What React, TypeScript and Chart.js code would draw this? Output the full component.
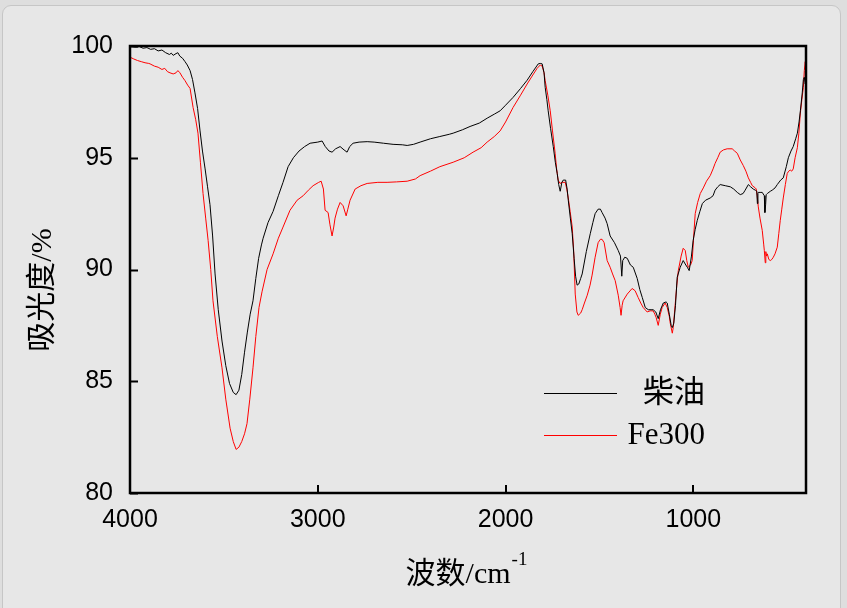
import React, { useEffect, useRef } from "react";
import { Chart, registerables } from "chart.js";

Chart.register(...registerables);

// Series labels
const seriesLabels = [" 柴油", "Fe300"];
const seriesColors = ["#000000", "#ff0000"];

// Axis settings
const xTicks = [4000, 3000, 2000, 1000];
const yTicks = [80, 85, 90, 95, 100];
const xTitle = "波数/cm";
const xTitleSup = "-1";
const yTitle = "吸光度/%";

// [wavenumber cm-1, value %]
const dieselSpectrum: [number, number][] = [
  [4000, 100.0], [3985, 99.97], [3970, 99.95], [3950, 99.97], [3930, 99.9], [3910, 99.93],
  [3890, 99.85], [3870, 99.88], [3850, 99.78], [3830, 99.82], [3810, 99.7], [3790, 99.62],
  [3780, 99.68], [3770, 99.58], [3755, 99.66], [3745, 99.7], [3735, 99.55], [3720, 99.45],
  [3707, 99.3], [3695, 99.15], [3680, 98.9], [3667, 98.5], [3654, 97.9], [3640, 97.2],
  [3627, 96.2], [3614, 95.3], [3600, 94.5], [3587, 93.7], [3574, 92.9], [3560, 91.5],
  [3547, 89.8], [3530, 88.2], [3510, 86.8], [3490, 85.7], [3470, 84.9], [3450, 84.5],
  [3435, 84.4], [3420, 84.6], [3405, 85.3], [3390, 86.3], [3375, 87.2], [3360, 88.0],
  [3345, 88.6], [3330, 89.6], [3315, 90.5], [3300, 91.1], [3291, 91.4], [3265, 92.1],
  [3238, 92.6], [3210, 93.3], [3185, 93.9], [3158, 94.6], [3130, 95.0], [3100, 95.3],
  [3070, 95.5], [3041, 95.65], [3000, 95.7], [2977, 95.75], [2960, 95.5], [2940, 95.3],
  [2924, 95.25], [2905, 95.4], [2881, 95.5], [2860, 95.35], [2844, 95.25], [2830, 95.5],
  [2812, 95.65], [2780, 95.7], [2737, 95.72], [2700, 95.7], [2650, 95.65], [2599, 95.6],
  [2550, 95.58], [2524, 95.55], [2490, 95.6], [2455, 95.7], [2400, 95.85], [2350, 95.95],
  [2300, 96.05], [2279, 96.1], [2230, 96.25], [2189, 96.4], [2140, 96.55], [2098, 96.77],
  [2060, 96.95], [2029, 97.1], [2000, 97.35], [1960, 97.7], [1920, 98.1], [1885, 98.47],
  [1855, 98.85], [1826, 99.2], [1815, 99.22], [1805, 99.2], [1795, 98.8], [1789, 98.15],
  [1780, 97.6], [1773, 97.1], [1760, 96.3], [1746, 95.5], [1735, 94.8], [1725, 94.3],
  [1717, 93.8], [1709, 93.5], [1700, 93.9], [1693, 94.0], [1680, 94.0], [1672, 93.6],
  [1666, 93.1], [1655, 92.3], [1645, 91.6], [1635, 90.5], [1627, 89.7], [1619, 89.3],
  [1610, 89.35], [1600, 89.6], [1592, 89.8], [1570, 90.8], [1549, 91.6], [1535, 92.1],
  [1523, 92.5], [1507, 92.7], [1495, 92.7], [1486, 92.55], [1470, 92.3], [1459, 92.05],
  [1443, 91.5], [1420, 91.2], [1400, 90.85], [1388, 90.6], [1381, 89.7], [1376, 90.4],
  [1365, 90.55], [1352, 90.5], [1335, 90.2], [1320, 90.1], [1299, 89.6], [1285, 89.1],
  [1272, 88.75], [1256, 88.3], [1240, 88.2], [1225, 88.2], [1214, 88.2], [1200, 88.1],
  [1187, 87.8], [1175, 88.2], [1160, 88.5], [1145, 88.55], [1139, 88.5], [1128, 88.0],
  [1118, 87.5], [1112, 87.4], [1104, 87.6], [1095, 88.4], [1086, 89.65], [1070, 90.1],
  [1054, 90.4], [1040, 90.2], [1032, 90.1], [1022, 89.95], [1010, 90.6], [1001, 91.3],
  [990, 91.8], [979, 92.2], [965, 92.6], [952, 92.95], [935, 93.1], [910, 93.2],
  [895, 93.3], [884, 93.55], [870, 93.7], [857, 93.8], [830, 93.75], [803, 93.7],
  [785, 93.6], [766, 93.45], [750, 93.35], [735, 93.4], [724, 93.55], [707, 93.8],
  [695, 93.7], [681, 93.6], [670, 93.55], [662, 93.5], [659, 92.95], [656, 93.4],
  [654, 93.45], [640, 93.45], [633, 93.45], [622, 93.3], [619, 92.55], [615, 92.9],
  [612, 93.35], [606, 93.4], [590, 93.5], [580, 93.55], [565, 93.65], [553, 93.8],
  [535, 94.0], [521, 94.1], [505, 94.6], [494, 95.0], [480, 95.3], [468, 95.5],
  [455, 95.85], [446, 96.1], [437, 96.6], [430, 97.1], [420, 97.9], [414, 98.5],
  [409, 98.6], [404, 98.3], [400, 98.5],
];

const fe300Spectrum: [number, number][] = [
  [4000, 99.5], [3980, 99.42], [3960, 99.35], [3940, 99.3], [3920, 99.25], [3900, 99.22],
  [3893, 99.2], [3870, 99.1], [3850, 99.05], [3830, 98.95], [3815, 99.0], [3800, 98.85],
  [3787, 98.8], [3770, 98.75], [3755, 98.8], [3745, 98.9], [3734, 98.8], [3720, 98.6],
  [3707, 98.45], [3693, 98.25], [3680, 98.1], [3664, 97.25], [3650, 96.7], [3638, 96.1],
  [3625, 94.8], [3611, 93.4], [3597, 92.3], [3584, 91.3], [3570, 90.0], [3558, 88.6],
  [3535, 87.0], [3510, 85.6], [3490, 84.2], [3467, 82.9], [3450, 82.3], [3435, 81.95],
  [3420, 82.05], [3405, 82.3], [3390, 82.65], [3377, 83.1], [3362, 84.2], [3345, 85.6],
  [3330, 87.0], [3313, 88.3], [3297, 89.0], [3270, 90.0], [3238, 90.7], [3210, 91.4],
  [3185, 91.9], [3148, 92.65], [3110, 93.1], [3078, 93.3], [3050, 93.55], [3025, 93.75],
  [2995, 93.9], [2982, 93.95], [2970, 93.6], [2961, 92.65], [2945, 92.55], [2935, 92.0],
  [2924, 91.5], [2915, 91.9], [2908, 92.3], [2895, 92.7], [2881, 93.0], [2865, 92.85],
  [2849, 92.4], [2840, 92.7], [2828, 93.1], [2801, 93.6], [2770, 93.75], [2737, 93.85],
  [2680, 93.9], [2631, 93.9], [2580, 93.92], [2524, 93.95], [2480, 94.05], [2455, 94.2],
  [2400, 94.4], [2350, 94.6], [2279, 94.8], [2220, 95.0], [2173, 95.25], [2130, 95.45],
  [2098, 95.7], [2060, 95.95], [2029, 96.2], [2000, 96.6], [1960, 97.25], [1920, 97.8],
  [1885, 98.3], [1855, 98.7], [1832, 99.0], [1815, 99.15], [1805, 99.1], [1795, 98.8],
  [1789, 98.45], [1775, 97.8], [1762, 97.1], [1750, 96.2], [1736, 95.2], [1728, 94.5],
  [1720, 94.0], [1710, 93.85], [1699, 93.9], [1682, 93.9], [1674, 93.6], [1666, 93.2],
  [1656, 92.6], [1645, 91.9], [1637, 90.8], [1629, 88.9], [1620, 88.1], [1613, 87.95],
  [1600, 88.05], [1592, 88.2], [1580, 88.5], [1565, 88.85], [1550, 89.3], [1539, 89.75],
  [1523, 90.55], [1507, 91.2], [1495, 91.35], [1486, 91.35], [1475, 91.2], [1459, 90.4],
  [1443, 90.1], [1430, 89.8], [1416, 89.5], [1400, 88.85], [1390, 88.3], [1385, 87.95],
  [1379, 88.4], [1374, 88.6], [1352, 88.9], [1326, 89.15], [1310, 89.05], [1294, 88.75],
  [1280, 88.5], [1267, 88.3], [1246, 88.1], [1230, 88.15], [1214, 88.15], [1205, 88.0],
  [1198, 87.85], [1187, 87.5], [1176, 88.0], [1166, 88.3], [1150, 88.5], [1139, 88.3],
  [1128, 87.9], [1123, 87.6], [1112, 87.15], [1107, 87.4], [1096, 88.5], [1088, 89.3],
  [1080, 89.95], [1065, 90.6], [1054, 90.95], [1043, 90.85], [1035, 90.4], [1027, 90.1],
  [1015, 90.2], [1006, 90.4], [998, 91.5], [990, 92.5], [977, 93.0], [963, 93.4],
  [947, 93.65], [930, 93.95], [910, 94.2], [895, 94.5], [884, 94.75], [870, 95.0],
  [857, 95.25], [840, 95.35], [820, 95.4], [793, 95.4], [780, 95.3], [766, 95.2],
  [750, 94.9], [734, 94.65], [720, 94.4], [707, 94.1], [695, 93.9], [686, 93.75],
  [670, 93.65], [665, 93.6], [660, 93.3], [654, 92.8], [645, 92.3], [633, 91.75],
  [625, 91.1], [622, 90.85], [617, 90.3], [614, 90.8], [610, 90.6], [606, 90.7],
  [598, 90.45], [590, 90.4], [582, 90.45], [574, 90.55], [565, 90.7], [553, 91.0],
  [545, 91.6], [537, 92.2], [529, 92.7], [521, 93.2], [510, 93.8], [500, 94.3],
  [492, 94.4], [484, 94.45], [476, 94.4], [468, 94.5], [458, 95.0], [446, 95.45],
  [438, 96.1], [430, 97.0], [422, 97.6], [414, 98.15], [409, 98.9], [404, 99.3],
  [401, 99.0],
];

const W = 847;
const H = 608;
const AREA = { left: 130, right: 806, top: 46, bottom: 493 };

const TITLE_FAMILY = "'Liberation Serif', 'Noto Sans CJK SC', serif";

const framePlugin = {
  id: "frameAndText",
  afterDatasetsDraw(chart: any) {
    const { ctx, chartArea, scales } = chart;
    const { left, right, top, bottom } = chartArea;
    ctx.save();
    // frame
    ctx.strokeStyle = "#000";
    ctx.lineWidth = 2.5;
    ctx.strokeRect(left, top, right - left, bottom - top);
    // inward ticks
    ctx.lineWidth = 2;
    ctx.beginPath();
    for (const v of yTicks) {
      const y = Math.round(scales.y.getPixelForValue(v)) + 0.5;
      ctx.moveTo(left, y);
      ctx.lineTo(left + 8, y);
    }
    for (const v of xTicks) {
      const x = Math.round(scales.x.getPixelForValue(v));
      ctx.moveTo(x, bottom);
      ctx.lineTo(x, bottom - 8);
    }
    ctx.stroke();

    // legend
    const legendRows = [393, 435];
    chart.data.datasets.forEach((ds: any, i: number) => {
      const y = legendRows[i];
      ctx.strokeStyle = ds.borderColor;
      ctx.lineWidth = 1;
      ctx.beginPath();
      ctx.moveTo(544, y + 0.5);
      ctx.lineTo(617, y + 0.5);
      ctx.stroke();
      ctx.fillStyle = "#000";
      ctx.font = `31px ${TITLE_FAMILY}`;
      ctx.textAlign = "right";
      ctx.textBaseline = "middle";
      ctx.fillText(ds.label, 705, y + 1);
    });

    // x title with superscript
    ctx.fillStyle = "#000";
    ctx.textAlign = "left";
    ctx.textBaseline = "alphabetic";
    ctx.font = `30px ${TITLE_FAMILY}`;
    const w1 = ctx.measureText(xTitle).width;
    ctx.font = `19px ${TITLE_FAMILY}`;
    const w2 = ctx.measureText(xTitleSup).width;
    const x0 = 466 - (w1 + w2) / 2;
    ctx.font = `30px ${TITLE_FAMILY}`;
    ctx.fillText(xTitle, x0, 583);
    ctx.font = `19px ${TITLE_FAMILY}`;
    ctx.fillText(xTitleSup, x0 + w1 + 1, 565);

    // y title rotated
    ctx.translate(43, 290);
    ctx.rotate(-Math.PI / 2);
    ctx.font = `30px ${TITLE_FAMILY}`;
    ctx.textAlign = "center";
    ctx.textBaseline = "middle";
    ctx.fillText(yTitle, 0, 0);
    ctx.restore();
  },
};

export default function App() {
  const ref = useRef<HTMLCanvasElement | null>(null);

  useEffect(() => {
    document.body.style.margin = "0";
    const canvas = ref.current;
    if (!canvas) return;
    const chart = new Chart(canvas, {
      type: "line",
      data: {
        datasets: [
          {
            label: seriesLabels[0],
            data: dieselSpectrum.map(([x, y]) => ({ x, y })),
            borderColor: seriesColors[0],
            backgroundColor: seriesColors[0],
            borderWidth: 1,
            pointRadius: 0,
            tension: 0,
          },
          {
            label: seriesLabels[1],
            data: fe300Spectrum.map(([x, y]) => ({ x, y })),
            borderColor: seriesColors[1],
            backgroundColor: seriesColors[1],
            borderWidth: 1,
            pointRadius: 0,
            tension: 0,
          },
        ],
      },
      options: {
        responsive: false,
        animation: false,
        devicePixelRatio: 1,
        layout: {
          padding: { left: 0, top: AREA.top, right: W - AREA.right, bottom: 0 },
        },
        plugins: {
          legend: { display: false },
          tooltip: { enabled: false },
          title: { display: false },
        },
        scales: {
          x: {
            type: "linear",
            reverse: true,
            min: 400,
            max: 4000,
            grid: { display: false, drawTicks: false },
            border: { display: false },
            afterBuildTicks: (scale: any) => {
              scale.ticks = xTicks.map((v) => ({ value: v }));
            },
            afterFit: (scale: any) => {
              scale.height = H - AREA.bottom;
            },
            ticks: {
              color: "#000",
              font: { family: "'Liberation Sans', Arial, sans-serif", size: 25 },
              padding: 12,
              maxRotation: 0,
              autoSkip: false,
              callback: (v: any) => String(v),
            },
          },
          y: {
            type: "linear",
            min: 80,
            max: 100,
            grid: { display: false, drawTicks: false },
            border: { display: false },
            afterBuildTicks: (scale: any) => {
              scale.ticks = yTicks.map((v) => ({ value: v }));
            },
            afterFit: (scale: any) => {
              scale.width = AREA.left;
            },
            ticks: {
              color: "#000",
              font: { family: "'Liberation Sans', Arial, sans-serif", size: 25 },
              padding: 17,
              callback: (v: any) => String(v),
            },
          },
        },
      },
      plugins: [framePlugin],
    });
    return () => chart.destroy();
  }, []);

  return (
    <div
      style={{
        position: "fixed",
        left: 0,
        top: 0,
        width: W,
        height: H,
        background: "#dedede",
        overflow: "hidden",
      }}
    >
      <div
        style={{
          position: "absolute",
          left: 2,
          top: 5,
          width: 837,
          height: 620,
          background: "#e7e7e7",
          border: "1px solid #c6c6c6",
          borderRadius: "9px 9px 0 0",
        }}
      />
      <canvas
        ref={ref}
        width={W}
        height={H}
        style={{ position: "absolute", left: 0, top: 0, width: W, height: H }}
      />
    </div>
  );
}
